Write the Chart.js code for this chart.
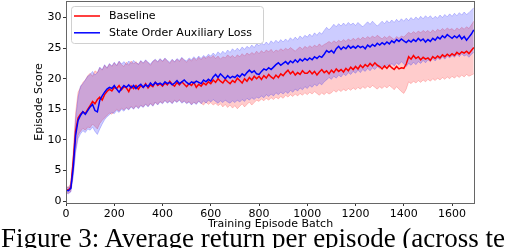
<!DOCTYPE html>
<html>
<head>
<meta charset="utf-8">
<script src="https://cdn.jsdelivr.net/npm/chart.js@4.4.1/dist/chart.umd.min.js"></script>
<style>
  html, body { margin: 0; padding: 0; background: #fff; overflow: hidden; }
  #wrap { position: relative; width: 510px; height: 248px; overflow: hidden; }
  #caption {
    position: absolute; left: 1px; top: 225px; white-space: nowrap;
    font-family: "Liberation Serif", "Times New Roman", serif; font-size: 27px; line-height: 27px; color: #000;
  }
</style>
</head>
<body>
<div id="wrap">
  <canvas id="returnChart" width="510" height="248"></canvas>
  <div id="caption">Figure 3: Average return per episode (across te</div>
</div>
<script>
// --- 1. DATA (one value every 10 episode batches, 0 .. 1690) ---
const batchStep = 10;
const xTicks = [0, 200, 400, 600, 800, 1000, 1200, 1400, 1600];
const yTicks = [0, 5, 10, 15, 20, 25, 30];

const baselineMean = [
  1.9, 1.8, 2.3, 6.5, 11.5, 13.6, 14.2, 14.6, 14.3, 15.0,
  15.6, 16.3, 15.9, 16.6, 17.0, 16.5, 17.4, 17.9, 18.3, 18.0,
  18.6, 18.4, 18.9, 18.2, 18.7, 18.5, 17.9, 18.8, 18.4, 18.9,
  18.3, 18.9, 18.6, 19.2, 18.5, 19.0, 18.7, 19.4, 18.9, 19.2,
  18.8, 19.3, 19.0, 19.6, 19.1, 18.8, 19.4, 19.0, 19.5, 19.1,
  18.7, 19.2, 18.9, 19.4, 18.6, 19.1, 18.8, 19.3, 19.0, 19.5,
  19.2, 19.8, 19.4, 20.0, 19.6, 19.3, 19.9, 19.5, 19.2, 19.7,
  19.4, 20.1, 19.7, 19.3, 20.0, 19.6, 20.2, 19.8, 20.4, 20.0,
  20.4, 19.9, 20.5, 20.1, 20.7, 20.3, 20.0, 20.6, 20.2, 20.8,
  20.5, 21.0, 21.4, 20.8, 21.2, 20.6, 21.0, 20.7, 21.3, 20.9,
  20.9, 21.3, 20.8, 21.2, 20.6, 21.1, 21.5, 21.0, 21.3, 20.8,
  21.4, 21.0, 21.6, 21.2, 21.5, 21.1, 21.7, 21.3, 21.9, 21.5,
  22.0, 21.6, 22.2, 21.8, 22.3, 22.0, 22.5, 22.1, 22.6, 22.2,
  22.0, 21.6, 22.1, 21.7, 22.2, 21.8, 21.5, 22.0, 21.6, 21.8,
  21.7, 22.4, 23.6, 23.2, 23.8, 23.3, 23.6, 23.1, 23.5, 23.2,
  23.4, 23.0, 23.6, 23.3, 23.7, 23.4, 23.9, 23.6, 24.0, 23.7,
  24.1, 23.8, 24.3, 24.0, 24.4, 24.2, 24.5, 24.1, 24.6, 25.1
];
const baselineUpper = [
  2.4, 2.3, 2.9, 8.0, 14.5, 17.8, 18.6, 19.4, 19.8, 20.5,
  20.9, 20.4, 21.3, 21.0, 21.8, 21.4, 22.2, 21.7, 22.4, 22.0,
  22.6, 22.1, 22.8, 22.3, 22.0, 22.7, 22.2, 22.9, 22.4, 22.8,
  22.3, 22.9, 22.5, 23.0, 22.6, 22.2, 22.8, 23.1, 22.7, 23.2,
  22.8, 23.3, 22.9, 22.5, 23.1, 22.7, 23.2, 22.8, 23.4, 23.0,
  22.7, 23.2, 22.9, 23.4, 23.0, 23.5, 23.1, 23.6, 23.3, 23.7,
  23.4, 23.8, 23.3, 23.7, 23.2, 23.6, 23.4, 23.9, 23.5, 23.8,
  23.4, 23.9, 23.6, 24.1, 23.7, 24.2, 23.9, 24.3, 24.0, 24.5,
  24.1, 24.6, 24.2, 24.7, 24.4, 24.8, 24.3, 24.7, 24.5, 24.9,
  24.6, 25.0, 24.7, 25.1, 24.8, 24.5, 24.9, 25.2, 24.8, 25.3,
  25.0, 25.4, 25.1, 25.5, 25.2, 25.7, 25.3, 25.6, 25.8, 26.1,
  25.8, 26.2, 25.9, 26.3, 26.0, 26.4, 26.1, 26.5, 26.2, 26.6,
  26.3, 26.7, 26.4, 26.8, 26.5, 26.9, 26.6, 27.0, 26.7, 27.1,
  26.8, 26.5, 26.9, 26.6, 27.0, 26.7, 26.4, 26.9, 26.6, 27.0,
  26.8, 27.2, 27.6, 27.3, 27.7, 27.4, 27.8, 27.5, 27.9, 27.6,
  27.9, 27.5, 28.0, 27.6, 28.1, 27.8, 28.2, 27.9, 28.3, 28.0,
  28.2, 27.8, 28.3, 28.0, 28.4, 28.1, 28.5, 28.2, 28.8, 29.4
];
const baselineLower = [
  1.4, 1.3, 1.6, 4.5, 8.5, 10.8, 11.4, 11.9, 11.6, 12.1,
  12.0, 12.6, 12.2, 11.8, 12.7, 13.2, 13.6, 14.0, 14.4, 14.2,
  14.6, 15.0, 14.7, 15.2, 14.9, 15.3, 15.0, 15.5, 15.1, 15.6,
  15.2, 15.7, 15.4, 15.9, 15.5, 16.0, 15.6, 16.2, 15.8, 16.3,
  16.0, 16.5, 16.1, 16.4, 16.0, 16.5, 16.2, 16.6, 16.1, 16.4,
  16.0, 16.3, 15.8, 16.2, 15.9, 16.4, 16.0, 15.7, 16.2, 15.8,
  16.1, 15.7, 16.0, 15.6, 15.9, 15.4, 15.8, 15.3, 15.7, 15.2,
  15.6, 15.1, 15.5, 15.9, 15.4, 15.8, 16.2, 15.7, 16.1, 16.5,
  16.3, 16.7, 16.4, 16.8, 16.5, 16.9, 16.6, 17.0, 16.7, 17.1,
  16.8, 17.3, 17.0, 17.4, 17.1, 17.5, 17.2, 17.6, 17.3, 17.7,
  17.4, 17.8, 17.5, 17.9, 17.6, 17.3, 17.7, 17.4, 17.8, 17.5,
  17.7, 18.1, 17.8, 18.2, 17.9, 18.3, 18.0, 18.4, 18.1, 18.5,
  18.2, 18.6, 18.3, 18.7, 18.4, 18.8, 18.5, 18.9, 18.6, 18.3,
  18.7, 18.4, 18.8, 18.5, 18.9, 18.6, 18.2, 18.7, 18.3, 17.9,
  17.6, 18.3, 19.5, 19.2, 19.6, 19.3, 19.7, 19.4, 19.8, 19.5,
  19.9, 19.6, 20.0, 19.7, 20.1, 19.8, 20.2, 19.9, 20.3, 20.0,
  20.4, 20.1, 20.5, 20.2, 20.6, 20.3, 20.7, 20.4, 20.6, 20.8
];

const auxMean = [
  1.8, 1.7, 2.1, 5.5, 10.8, 13.2, 14.0, 14.6, 14.2, 14.8,
  15.4, 15.8, 14.8, 14.6, 16.5, 17.2, 17.8, 18.3, 18.6, 18.4,
  18.9, 18.3, 17.8, 18.4, 18.9, 18.6, 19.0, 18.5, 18.9, 18.4,
  18.8, 19.1, 18.6, 19.0, 18.7, 19.3, 18.9, 19.4, 19.1, 19.3,
  19.0, 19.5, 19.2, 19.4, 19.0, 19.3, 19.7, 19.2, 19.5, 19.8,
  19.4, 19.1, 19.5, 19.3, 19.6, 19.4, 19.2, 19.8, 19.5, 19.9,
  19.6, 20.3, 20.7, 20.2, 20.8, 20.4, 20.0, 20.5, 20.1, 20.4,
  20.2, 20.6, 20.3, 20.8, 20.5, 21.0, 21.4, 21.0, 21.3, 20.8,
  20.7, 21.2, 21.6, 21.4, 21.8, 21.5, 21.9, 22.3, 22.6, 22.2,
  22.5, 22.8, 22.4, 22.9, 22.6, 23.1, 22.7, 23.2, 22.9, 23.3,
  23.0, 23.4, 23.1, 23.6, 23.3, 23.7, 23.5, 24.0, 24.6, 24.3,
  24.6, 24.2, 24.9, 25.3, 24.8, 25.2, 24.9, 25.4, 25.0, 25.3,
  25.0, 25.4, 25.1, 25.3, 24.9, 25.5, 25.2, 25.6, 25.3, 25.8,
  25.5, 25.9, 25.6, 26.0, 25.7, 26.2, 25.9, 26.4, 26.1, 26.5,
  26.2, 25.9, 26.3, 26.0, 26.4, 26.1, 26.6, 26.2, 26.5, 26.0,
  26.4, 26.1, 26.6, 26.3, 26.8, 26.5, 27.0, 26.7, 27.2, 26.9,
  26.6, 27.0, 26.7, 27.1, 26.5, 26.9, 26.3, 26.8, 27.3, 28.0
];
const auxUpper = [
  2.3, 2.2, 2.7, 7.0, 13.5, 17.0, 18.8, 19.2, 19.8, 20.4,
  20.7, 21.2, 20.6, 21.0, 21.9, 21.5, 22.3, 21.8, 22.5, 22.1,
  22.7, 22.2, 22.9, 22.4, 22.8, 22.3, 22.9, 22.5, 23.0, 22.6,
  22.4, 23.0, 22.6, 23.1, 22.7, 22.4, 22.9, 23.2, 22.8, 23.3,
  22.9, 23.4, 23.0, 22.7, 23.2, 22.8, 23.3, 23.0, 23.5, 23.1,
  22.9, 23.4, 23.1, 23.6, 23.2, 23.7, 23.3, 23.8, 23.5, 24.0,
  23.7, 24.2, 23.8, 24.4, 24.0, 24.5, 24.1, 24.7, 24.3, 24.9,
  24.5, 25.0, 24.6, 25.2, 24.8, 25.3, 25.0, 25.5, 25.1, 25.7,
  25.4, 25.9, 25.5, 26.0, 25.6, 26.2, 25.8, 26.3, 25.9, 26.4,
  26.0, 26.5, 26.1, 26.7, 26.3, 26.8, 26.4, 27.0, 26.6, 27.1,
  26.8, 27.3, 26.9, 27.5, 27.1, 27.6, 27.3, 27.9, 28.4, 28.0,
  28.4, 28.9, 28.5, 29.0, 28.6, 29.1, 28.7, 29.2, 28.8, 29.1,
  28.7, 29.2, 28.8, 28.5, 28.9, 29.3, 28.9, 29.4, 29.0, 28.6,
  29.0, 29.4, 29.0, 29.5, 29.1, 29.6, 29.2, 29.7, 29.3, 29.8,
  29.4, 29.9, 29.5, 30.0, 29.6, 30.1, 29.7, 30.2, 29.8, 30.3,
  29.9, 30.3, 29.8, 30.2, 29.9, 30.4, 30.0, 30.5, 30.1, 30.6,
  30.2, 30.7, 30.3, 30.8, 30.4, 30.9, 30.5, 30.8, 31.2, 31.6
];
const auxLower = [
  1.3, 1.2, 1.5, 4.0, 8.0, 10.2, 11.0, 11.5, 11.2, 11.8,
  11.6, 12.1, 11.4, 10.9, 11.8, 12.6, 13.3, 13.8, 14.1, 14.5,
  14.3, 14.8, 14.5, 15.0, 14.7, 15.2, 14.9, 15.4, 15.0, 15.5,
  15.1, 15.6, 15.3, 15.8, 15.4, 15.9, 15.5, 16.1, 15.7, 16.2,
  15.9, 16.4, 16.0, 16.3, 15.9, 16.4, 16.1, 16.5, 16.0, 16.3,
  15.9, 16.2, 15.7, 16.1, 15.8, 16.3, 15.9, 16.4, 16.0, 16.5,
  16.2, 16.6, 16.3, 16.0, 16.4, 16.1, 16.5, 16.2, 16.0, 16.4,
  16.1, 16.5, 16.2, 16.6, 16.3, 16.8, 16.5, 16.9, 16.6, 17.0,
  16.8, 17.2, 16.9, 17.4, 17.1, 17.5, 17.2, 17.7, 17.4, 17.8,
  17.5, 17.9, 17.6, 18.1, 17.8, 18.3, 18.0, 18.5, 18.2, 18.7,
  18.4, 18.9, 18.6, 19.1, 18.8, 19.3, 19.0, 19.5, 19.8, 20.2,
  19.9, 20.4, 20.1, 20.6, 20.3, 20.8, 20.5, 21.0, 20.7, 21.2,
  20.9, 21.4, 21.0, 21.5, 21.2, 21.7, 21.3, 21.8, 21.5, 22.0,
  21.7, 22.1, 21.8, 22.3, 22.0, 22.5, 22.1, 22.6, 22.3, 22.8,
  22.4, 22.0, 22.5, 22.2, 22.7, 22.3, 22.8, 22.5, 23.0, 22.6,
  23.1, 22.8, 23.3, 22.9, 23.4, 23.1, 23.6, 23.2, 23.7, 23.4,
  23.8, 23.5, 24.0, 23.6, 24.1, 23.7, 23.9, 23.5, 24.0, 24.3
];

const legendItems = [
  { label: 'Baseline', color: '#ff0000' },
  { label: 'State Order Auxiliary Loss', color: '#0000ff' }
];

// --- 2. HELPERS ---
function toPoints(values) {
  return values.map((v, i) => ({ x: i * batchStep, y: v }));
}

const FONT = { family: 'DejaVu Sans', size: 11 };

// keep Chart.js from reserving extra room for half tick labels
function fixScale(size) {
  return s => {
    if (s.isHorizontal()) s.height = size; else s.width = size;
    s.paddingTop = 0; s.paddingBottom = 0; s.paddingLeft = 0; s.paddingRight = 0;
  };
}

// frame around the plot (matplotlib spines)
const framePlugin = {
  id: 'frame',
  afterDatasetsDraw(chart) {
    const { ctx, chartArea: a } = chart;
    ctx.save();
    ctx.strokeStyle = '#666';
    ctx.lineWidth = 1;
    ctx.strokeRect(a.left + 0.5, a.top + 0.5, a.right - a.left - 1, a.bottom - a.top);
    ctx.restore();
  }
};

// legend box inside the upper-left corner of the plot
const boxLegendPlugin = {
  id: 'boxLegend',
  afterDraw(chart) {
    const { ctx, chartArea: a } = chart;
    const bx = a.left + 5, by = a.top + 5, bw = 192, bh = 37;
    ctx.save();
    ctx.fillStyle = 'rgba(255,255,255,0.8)';
    ctx.strokeStyle = '#d0d0d0';
    ctx.lineWidth = 1;
    ctx.beginPath();
    ctx.roundRect(bx + 0.5, by + 0.5, bw, bh, 3);
    ctx.fill();
    ctx.stroke();
    ctx.font = '11px "DejaVu Sans"';
    ctx.textBaseline = 'middle';
    ctx.fillStyle = '#000';
    legendItems.forEach((item, i) => {
      const y = by + 10 + i * 16.8;
      ctx.strokeStyle = item.color;
      ctx.lineWidth = 1.5;
      ctx.beginPath();
      ctx.moveTo(bx + 3, y);
      ctx.lineTo(bx + 29, y);
      ctx.stroke();
      ctx.fillText(item.label, bx + 38, y);
    });
    ctx.restore();
  }
};

// --- 3. CHART ---
function createReturnChart() {
  const ctx = document.getElementById('returnChart').getContext('2d');
  new Chart(ctx, {
    type: 'line',
    data: {
      datasets: [
        { label: 'State Order Auxiliary Loss', data: toPoints(auxMean), borderColor: '#0000ff', borderWidth: 1.5, fill: false },
        { label: 'Baseline', data: toPoints(baselineMean), borderColor: '#ff0000', borderWidth: 1.5, fill: false },
        { label: 'aux upper', data: toPoints(auxUpper), borderColor: 'rgba(0,0,255,0.2)', borderWidth: 1, backgroundColor: 'rgba(0,0,255,0.2)', fill: '+1' },
        { label: 'aux lower', data: toPoints(auxLower), borderColor: 'rgba(0,0,255,0.2)', borderWidth: 1, fill: false },
        { label: 'base upper', data: toPoints(baselineUpper), borderColor: 'rgba(255,0,0,0.2)', borderWidth: 1, backgroundColor: 'rgba(255,0,0,0.2)', fill: '+1' },
        { label: 'base lower', data: toPoints(baselineLower), borderColor: 'rgba(255,0,0,0.2)', borderWidth: 1, fill: false }
      ]
    },
    options: {
      responsive: false,
      animation: false,
      events: [],
      elements: { point: { radius: 0 }, line: { tension: 0 } },
      layout: { padding: { top: 1, right: 35, left: 0, bottom: 0 } },
      plugins: { legend: { display: false }, tooltip: { enabled: false } },
      scales: {
        x: {
          type: 'linear', min: 0, max: 1695,
          afterBuildTicks: s => { s.ticks = xTicks.map(v => ({ value: v })); },
          afterFit: fixScale(45),
          grid: { drawOnChartArea: false, drawTicks: true, tickLength: 3, tickColor: '#333' },
          border: { display: false },
          ticks: { font: FONT, color: '#000', padding: 2, maxRotation: 0, callback: v => String(v) },
          title: { display: true, text: 'Training Episode Batch', font: FONT, color: '#000', padding: { top: 0, bottom: 17 } }
        },
        y: {
          min: -0.3, max: 32.7,
          afterBuildTicks: s => { s.ticks = yTicks.map(v => ({ value: v })); },
          afterFit: fixScale(66),
          grid: { drawOnChartArea: false, drawTicks: true, tickLength: 3, tickColor: '#333' },
          border: { display: false },
          ticks: { font: FONT, color: '#000', padding: 1.5, callback: v => String(v) },
          title: { display: true, text: 'Episode Score', font: FONT, color: '#000', padding: { top: 33, bottom: 0 } }
        }
      }
    },
    plugins: [framePlugin, boxLegendPlugin]
  });
}

// --- 4. KICKOFF ---
createReturnChart();
</script>
</body>
</html>
